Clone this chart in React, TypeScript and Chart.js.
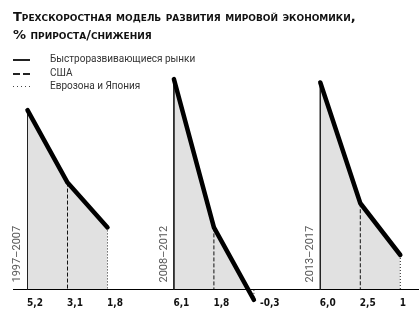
import React, { useEffect, useRef } from 'react';
import { Chart, registerables } from 'chart.js';

Chart.register(...registerables);

// ---- data ----
const TITLE_LINE_1 = 'Трехскоростная модель развития мировой экономики,';
const TITLE_LINE_2 = '% прироста/снижения';
const SERIES_NAMES = ['Быстроразвивающиеся рынки', 'США', 'Еврозона и Япония'];
const PERIODS = ['1997–2007', '2008–2012', '2013–2017'];
const EMERGING = [5.2, 6.1, 6.0];
const USA = [3.1, 1.8, 2.5];
const EURO_JAPAN = [1.8, -0.3, 1];
const VALUE_LABELS = [
  ['5,2', '3,1', '1,8'],
  ['6,1', '1,8', '-0,3'],
  ['6,0', '2,5', '1'],
];

// ---- layout ----
const W = 419;
const H = 311;
const X0_PX = 27.5;
const STEP_PX = 40;
const GROUP_STEP = 3.66;
const ZERO_PX = 289.5;
const UNIT_PX = 34.5;
const AXIS_LEFT_PX = 13;

const SERIES_VALUES = [EMERGING, USA, EURO_JAPAN];
const STYLES = [
  { dash: [] as number[], color: '#222' },
  { dash: [4, 2], color: '#111' },
  { dash: [1, 2], color: '#222' },
];

export default function App() {
  const ref = useRef<HTMLCanvasElement | null>(null);

  useEffect(() => {
    if (!ref.current) return;
    const datasets: any[] = [];
    PERIODS.forEach((_, g) => {
      datasets.push({
        data: SERIES_VALUES.map((vals, i) => ({ x: g * GROUP_STEP + i, y: vals[g] })),
        borderColor: '#000',
        borderWidth: 4.5,
        borderCapStyle: 'round',
        borderJoinStyle: 'round',
        pointRadius: 0,
        tension: 0,
        fill: { target: 'origin', above: '#e1e1e1', below: 'rgba(0,0,0,0)' },
        order: 0,
      });
      SERIES_VALUES.forEach((vals, i) => {
        datasets.push({
          data: [
            { x: g * GROUP_STEP + i, y: vals[g] },
            { x: g * GROUP_STEP + i, y: 0 },
          ],
          borderColor: STYLES[i].color,
          borderWidth: 1,
          borderDash: STYLES[i].dash,
          pointRadius: 0,
          fill: false,
          order: 1,
        });
      });
    });

    const overlay = {
      id: 'overlay',
      beforeDatasetsDraw(chart: any) {
        const ctx = chart.ctx;
        const y = chart.scales.y.getPixelForValue(0);
        ctx.save();
        ctx.strokeStyle = '#000';
        ctx.lineWidth = 1;
        ctx.beginPath();
        ctx.moveTo(AXIS_LEFT_PX, y);
        ctx.lineTo(chart.chartArea.right, y);
        ctx.stroke();
        ctx.restore();
      },
      afterDraw(chart: any) {
        const ctx = chart.ctx;
        const xs = chart.scales.x;
        const y0 = chart.scales.y.getPixelForValue(0);
        ctx.save();
        PERIODS.forEach((period, g) => {
          SERIES_VALUES.forEach((vals, i) => {
            const px = xs.getPixelForValue(g * GROUP_STEP + i);
            ctx.font = 'bold 10px "DejaVu Sans Condensed", "DejaVu Sans"';
            ctx.fillStyle = '#111';
            ctx.textAlign = 'left';
            ctx.textBaseline = 'alphabetic';
            const off = vals[g] < 0 ? 6 : -0.5;
            ctx.fillText(VALUE_LABELS[g][i], px + off, y0 + 16);
          });
          const fx = xs.getPixelForValue(g * GROUP_STEP);
          ctx.save();
          ctx.translate(fx - 10, y0 - 7);
          ctx.rotate(-Math.PI / 2);
          ctx.font = '11px Roboto';
          ctx.fillStyle = '#555';
          ctx.textAlign = 'left';
          ctx.textBaseline = 'middle';
          ctx.fillText(period, 0, 0);
          ctx.restore();
        });
        ctx.restore();
      },
    };

    const chart = new Chart(ref.current, {
      type: 'line',
      data: { datasets },
      options: {
        animation: false,
        responsive: false,
        devicePixelRatio: 1,
        layout: { padding: 0 },
        scales: {
          x: { type: 'linear', display: false, min: -X0_PX / STEP_PX, max: (W - X0_PX) / STEP_PX },
          y: { type: 'linear', display: false, min: -(H - ZERO_PX) / UNIT_PX, max: ZERO_PX / UNIT_PX },
        },
        plugins: {
          legend: { display: false },
          tooltip: { enabled: false },
          filler: { drawTime: 'beforeDatasetsDraw' },
        },
      } as any,
      plugins: [overlay],
    });
    return () => chart.destroy();
  }, []);

  const sample = (i: number): React.CSSProperties => {
    if (i === 0) return { height: 2, background: '#222' };
    if (i === 1)
      return { height: 2, background: 'repeating-linear-gradient(to right, #222 0 7px, transparent 7px 10px)' };
    return { height: 1, background: 'repeating-linear-gradient(to right, #444 0 1px, transparent 1px 4px)' };
  };

  return (
    <div style={{ position: 'fixed', left: 0, top: 0, width: W, height: H, background: '#fff' }}>
      <canvas ref={ref} width={W} height={H} style={{ position: 'absolute', left: 0, top: 0, width: W, height: H }} />
      <div
        style={{
          position: 'absolute',
          left: 13,
          top: 8,
          font: 'bold 13px "DejaVu Sans"',
          fontVariant: 'small-caps',
          lineHeight: '18px',
          color: '#111',
          whiteSpace: 'nowrap',
        }}
      >
        <div>{TITLE_LINE_1}</div>
        <div>{TITLE_LINE_2}</div>
      </div>
      {SERIES_NAMES.map((name, i) => (
        <div key={name} style={{ position: 'absolute', left: 0, top: 52 + i * 13.5, height: 14, width: 220 }}>
          <div style={{ position: 'absolute', left: 13, width: 17, top: 7, ...sample(i) }} />
          <div
            style={{
              position: 'absolute',
              left: 50,
              top: 0,
              font: '10px Roboto',
              lineHeight: '14px',
              color: '#333',
              whiteSpace: 'nowrap',
            }}
          >
            {name}
          </div>
        </div>
      ))}
    </div>
  );
}
